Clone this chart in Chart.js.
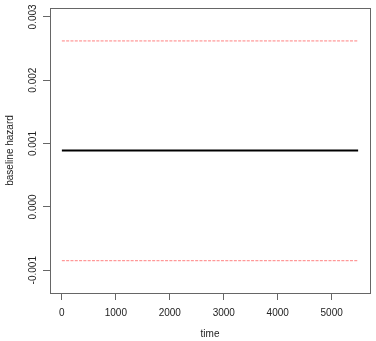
<!DOCTYPE html>
<html><head><meta charset="utf-8">
<script src="https://cdn.jsdelivr.net/npm/chart.js@4/dist/chart.umd.min.js"></script>
<style>html,body{margin:0;padding:0;background:#fff}#wrap{width:376px;height:341px}</style>
</head><body><div id="wrap"><canvas id="c" width="376" height="341"></canvas></div>
<script>
const times = [0, 5490];
const hazard = [0.00089, 0.00089];
const upper = [0.00262, 0.00262];
const lower = [-0.00085, -0.00085];
const xTicks = [0, 1000, 2000, 3000, 4000, 5000];
const yTicks = [-0.001, 0, 0.001, 0.002, 0.003];
const yTickLabels = ['-0.001', '0.000', '0.001', '0.002', '0.003'];
const xTitle = 'time';
const yTitle = 'baseline hazard';

const pts = arr => times.map((t, i) => ({x: t, y: arr[i]}));
const FONT = 'Liberation Sans, Arial, sans-serif';
const TXT = '#222';
const AX = '#666';

const boxPlugin = {
  id: 'rbox',
  afterDraw(chart) {
    const {ctx, chartArea: a, scales} = chart;
    ctx.save();
    ctx.strokeStyle = AX; ctx.lineWidth = 1;
    ctx.strokeRect(Math.round(a.left) + 0.5, Math.round(a.top) + 0.5, Math.round(a.right - a.left), Math.round(a.bottom - a.top));
    ctx.fillStyle = TXT;
    ctx.font = '10px ' + FONT;
    ctx.textAlign = 'center'; ctx.textBaseline = 'middle';
    const ys = scales.y;
    yTicks.forEach((v, i) => {
      const py = ys.getPixelForValue(v);
      ctx.save(); ctx.translate(33, py); ctx.rotate(-Math.PI / 2);
      ctx.fillText(yTickLabels[i], 0, 0); ctx.restore();
    });
    ctx.save(); ctx.translate(10, (a.top + a.bottom) / 2); ctx.rotate(-Math.PI / 2);
    ctx.fillText(yTitle, 0, 0); ctx.restore();
    ctx.fillText(xTitle, (a.left + a.right) / 2, 334);
    ctx.restore();
  }
};

new Chart(document.getElementById('c'), {
  type: 'scatter',
  data: {
    datasets: [
      {data: pts(upper), showLine: true, borderColor: '#ff8080', borderWidth: 1, borderDash: [3, 1.3], pointRadius: 0, fill: false},
      {data: pts(lower), showLine: true, borderColor: '#ff8080', borderWidth: 1, borderDash: [3, 1.3], pointRadius: 0, fill: false},
      {data: pts(hazard), showLine: true, borderColor: '#000', borderWidth: 2, pointRadius: 0, fill: false}
    ]
  },
  options: {
    responsive: false, animation: false, devicePixelRatio: 1,
    layout: {padding: {left: 0, right: 6, top: 8, bottom: 0}},
    plugins: {legend: {display: false}, tooltip: {enabled: false}},
    scales: {
      x: {
        type: 'linear', min: -220, max: 5710,
        afterBuildTicks: s => { s.ticks = xTicks.map(v => ({value: v})); },
        afterFit: s => { s.height = 48; },
        border: {display: false},
        grid: {drawOnChartArea: false, drawTicks: true, tickLength: 7, color: AX},
        ticks: {color: TXT, font: {size: 10, family: FONT}, padding: 7, maxRotation: 0, autoSkip: false,
                callback: v => String(v)}
      },
      y: {
        type: 'linear', min: -0.00136, max: 0.00314,
        afterBuildTicks: s => { s.ticks = yTicks.map(v => ({value: v})); },
        afterFit: s => { s.width = 50; },
        border: {display: false},
        grid: {drawOnChartArea: false, drawTicks: true, tickLength: 7, color: AX},
        ticks: {display: false}
      }
    }
  },
  plugins: [boxPlugin]
});
</script></body></html>
